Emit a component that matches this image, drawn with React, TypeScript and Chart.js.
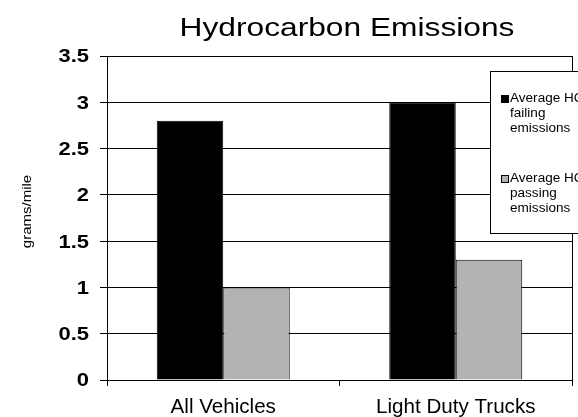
import React, { useEffect, useRef } from "react";
import { Chart, registerables } from "chart.js";

Chart.register(...registerables);

const chartTitle = "Hydrocarbon Emissions";
const yAxisTitle = "grams/mile";
const categories = ["All Vehicles", "Light Duty Trucks"];
const seriesNames = ["Average HC failing emissions", "Average HC passing emissions"];
const seriesLegendLines = [
  ["Average HC", "failing", "emissions"],
  ["Average HC", "passing", "emissions"],
];
const failingValues = [2.8, 3.0];
const passingValues = [1.0, 1.3];
const seriesColors = ["#000000", "#b3b3b3"];
const yMin = 0;
const yMax = 3.5;
const yStep = 0.5;

const FONT = "Arial, 'Liberation Sans', sans-serif";

function stretchText(ctx: any, text: string, x: number, y: number, sx: number, align: string) {
  ctx.save();
  ctx.translate(x, y);
  ctx.scale(sx, 1);
  ctx.textAlign = align;
  ctx.fillText(text, 0, 0);
  ctx.restore();
}

const decorPlugin = {
  id: "decor",
  afterDraw(chart: any) {
    const { ctx, chartArea } = chart;
    ctx.save();
    // plot border (right side)
    ctx.strokeStyle = "#000";
    ctx.lineWidth = 1;
    ctx.beginPath();
    ctx.moveTo(Math.round(chartArea.right) + 0.5, chartArea.top);
    ctx.lineTo(Math.round(chartArea.right) + 0.5, chartArea.bottom);
    ctx.stroke();

    ctx.fillStyle = "#000";

    // title
    ctx.font = `26px ${FONT}`;
    ctx.textBaseline = "alphabetic";
    stretchText(ctx, chartTitle, 347, 36, 1.22, "center");

    // y tick labels
    const ys = chart.scales.y;
    ctx.font = `bold 18px ${FONT}`;
    ctx.textBaseline = "middle";
    ys.ticks.forEach((t: any) => {
      const py = ys.getPixelForValue(t.value);
      stretchText(ctx, String(t.value), 89, py + 1.5, 1.22, "right");
    });

    // x tick labels
    const xs = chart.scales.x;
    ctx.font = `20px ${FONT}`;
    ctx.textBaseline = "alphabetic";
    categories.forEach((c, i) => {
      const px = xs.getPixelForValue(i);
      stretchText(ctx, c, px, 413, 1.03, "center");
    });

    // y axis title (rotated)
    ctx.save();
    ctx.translate(28, 211.5);
    ctx.rotate(-Math.PI / 2);
    ctx.font = `12px ${FONT}`;
    ctx.textBaseline = "middle";
    stretchText(ctx, yAxisTitle, 0, 0, 1.25, "center");
    ctx.restore();

    // legend
    const lx = 490.5, ly = 71.5, lw = 200, lh = 162;
    ctx.fillStyle = "#fff";
    ctx.fillRect(lx, ly, lw, lh);
    ctx.strokeStyle = "#000";
    ctx.strokeRect(lx, ly, lw, lh);
    ctx.font = `12px ${FONT}`;
    ctx.textBaseline = "middle";
    const itemTops = [99, 179];
    chart.data.datasets.forEach((ds: any, i: number) => {
      const cy = itemTops[i];
      ctx.fillStyle = ds.backgroundColor;
      ctx.fillRect(501.5, cy - 3.5, 7, 7);
      ctx.strokeStyle = "#000";
      ctx.strokeRect(501.5, cy - 3.5, 7, 7);
      ctx.fillStyle = "#000";
      seriesLegendLines[i].forEach((line, j) => {
        stretchText(ctx, line, 510, cy + j * 14.7, 1.13, "left");
      });
    });
    ctx.restore();
  },
};

export default function App() {
  const ref = useRef<HTMLCanvasElement | null>(null);
  useEffect(() => {
    if (!ref.current) return;
    const chart = new Chart(ref.current, {
      type: "bar",
      data: {
        labels: categories,
        datasets: [
          {
            label: seriesNames[0],
            data: failingValues,
            backgroundColor: seriesColors[0],
            borderColor: "#000",
            borderWidth: 1,
          },
          {
            label: seriesNames[1],
            data: passingValues,
            backgroundColor: seriesColors[1],
            borderColor: "#000",
            borderWidth: 1,
          },
        ],
      },
      options: {
        animation: false,
        responsive: true,
        maintainAspectRatio: false,
        layout: { padding: { top: 56, right: 6, bottom: 0, left: 0 } },
        plugins: {
          legend: { display: false },
          title: { display: false },
          tooltip: { enabled: false },
        },
        datasets: {
          bar: { categoryPercentage: 0.572, barPercentage: 1.0 },
        },
        scales: {
          x: {
            grid: {
              offset: true,
              drawOnChartArea: false,
              color: "#000",
              tickLength: 6,
              lineWidth: 1,
            },
            border: { color: "#000", width: 1 },
            ticks: { display: false },
            afterFit(scale: any) {
              scale.height = 37;
            },
          },
          y: {
            min: yMin,
            max: yMax,
            ticks: { stepSize: yStep, display: false },
            grid: { color: "#000", tickLength: 7, lineWidth: 1 },
            border: { color: "#000", width: 1 },
            afterFit(scale: any) {
              scale.width = 107;
            },
          },
        },
      },
      plugins: [decorPlugin],
    });
    return () => chart.destroy();
  }, []);
  return (
    <div style={{ position: "absolute", left: 0, top: 0, width: 578, height: 417, background: "#fff" }}>
      <canvas ref={ref} />
    </div>
  );
}
